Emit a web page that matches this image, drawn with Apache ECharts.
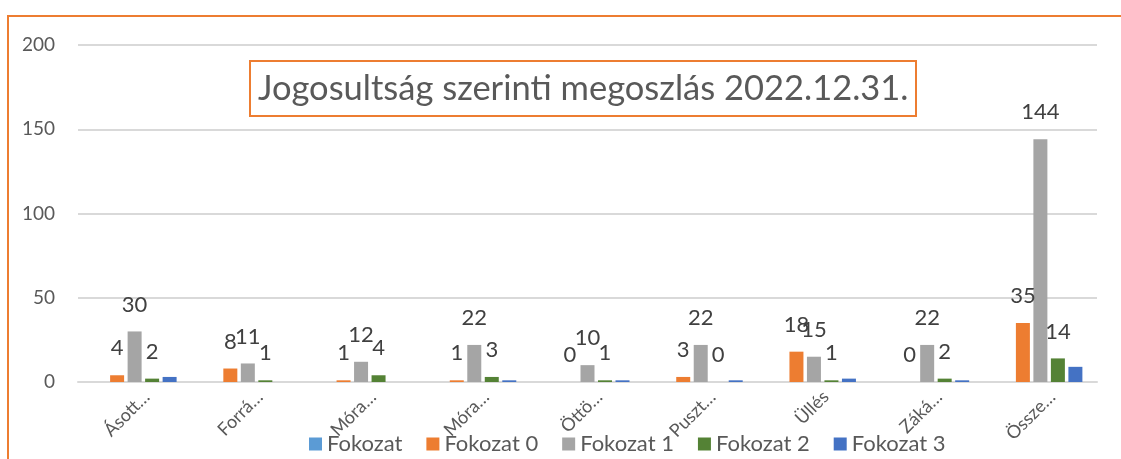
<!DOCTYPE html>
<html>
<head>
<meta charset="utf-8">
<script src="https://cdn.jsdelivr.net/npm/echarts@6/dist/echarts.min.js"></script>
<style>
  html, body { margin: 0; padding: 0; background: #fff; }
  #chart { width: 1121px; height: 459px; }
</style>
</head>
<body>
<div id="chart"></div>
<script>
// data
var categories = ["Ásott…", "Forrá…", "Móra…", "Móra…", "Öttö…", "Puszt…", "Üllés", "Záká…", "Össze…"];
var fokozat = [null, null, null, null, null, null, null, null, null];
var fokozat0 = [4, 8, 1, 1, 0, 3, 18, 0, 35];
var fokozat1 = [30, 11, 12, 22, 10, 22, 15, 22, 144];
var fokozat2 = [2, 1, 4, 3, 1, 0, 1, 2, 14];
var fokozat3 = [3, 0, 0, 1, 1, 1, 2, 1, 9];
var seriesNames = ["Fokozat", "Fokozat 0", "Fokozat 1", "Fokozat 2", "Fokozat 3"];
var colors = ["#5B9BD5", "#ED7D31", "#A5A5A5", "#548235", "#4472C4"];

var FONT = "Lato";
var TXT = "#595959";

function barSeries(name, values, color, showLabel) {
  return {
    name: name,
    type: "bar",
    data: values,
    barWidth: 14,
    barGap: "25%",
    itemStyle: { color: color },
    label: {
      show: showLabel,
      position: "top",
      distance: 16,
      fontFamily: FONT,
      fontSize: 22,
      color: "#404040"
    }
  };
}

var chart = echarts.init(document.getElementById("chart"));
chart.setOption({
  backgroundColor: "#fff",
  color: colors,
  title: {
    text: "Jogosultság szerinti megoszlás 2022.12.31.",
    left: 250,
    top: 61,
    padding: [10, 8, 10, 8],
    borderColor: "#ED7D31",
    borderWidth: 2,
    textStyle: {
      fontFamily: FONT,
      fontWeight: "normal",
      fontSize: 34.5,
      color: TXT
    }
  },
  legend: {
    left: 304,
    top: 428,
    icon: "rect",
    itemWidth: 13,
    itemHeight: 13,
    itemGap: 24,
    textStyle: { fontFamily: FONT, fontSize: 22, color: TXT },
    data: seriesNames
  },
  graphic: [{
    type: "polyline",
    silent: true,
    shape: { points: [[8, 459], [8, 16], [1121, 16]] },
    style: { stroke: "#ED7D31", lineWidth: 2, fill: null }
  }],
  grid: { left: 78, right: 24, top: 45, bottom: 77 },
  xAxis: {
    type: "category",
    data: categories,
    axisTick: { show: false },
    axisLine: { lineStyle: { color: "#D9D9D9", width: 2 } },
    axisLabel: {
      rotate: 45,
      interval: 0,
      margin: 24,
      padding: [0, -17, 0, 0],
      fontFamily: FONT,
      fontSize: 18,
      color: TXT
    }
  },
  yAxis: {
    type: "value",
    min: 0,
    max: 200,
    interval: 50,
    axisLine: { show: false },
    axisTick: { show: false },
    splitLine: { lineStyle: { color: "#D9D9D9", width: 2 } },
    axisLabel: { margin: 23, fontFamily: FONT, fontSize: 19, color: TXT }
  },
  series: [
    barSeries(seriesNames[0], fokozat, colors[0], false),
    barSeries(seriesNames[1], fokozat0, colors[1], true),
    barSeries(seriesNames[2], fokozat1, colors[2], true),
    barSeries(seriesNames[3], fokozat2, colors[3], true),
    barSeries(seriesNames[4], fokozat3, colors[4], false)
  ]
});
</script>
</body>
</html>
